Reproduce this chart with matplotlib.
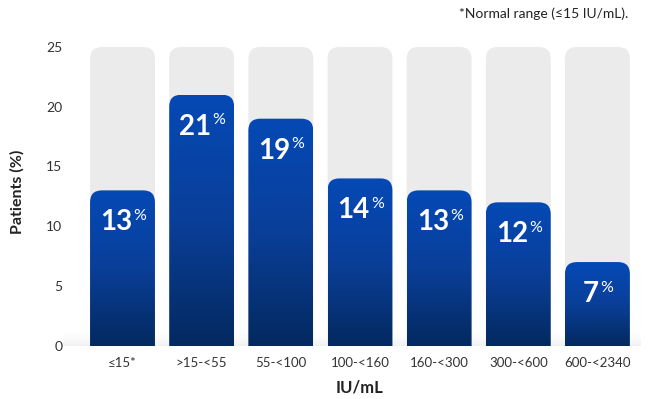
import numpy as np
import matplotlib.pyplot as plt
from matplotlib.patches import FancyBboxPatch
from matplotlib.colors import LinearSegmentedColormap

plt.rcParams['font.family'] = ['Lato', 'DejaVu Sans']

# data
categories = ['≤15*', '>15-<55', '55-<100', '100-<160', '160-<300', '300-<600', '600-<2340']
patients = [13, 21, 19, 14, 13, 12, 7]
y_max = 25
yticks = [0, 5, 10, 15, 20, 25]

fig = plt.figure(figsize=(6.5, 3.99), dpi=100)
ax = fig.add_axes([0.1215, 0.1336, 0.8646, 0.7636])

bar_w = 0.82
radius = 0.15
aspect = 6.625  # keeps the corners round (x units vs y units)
blues = LinearSegmentedColormap.from_list('bar', ['#03295f', '#0a3f99', '#0549b5'])
grad = np.linspace(0, 1, 256).reshape(-1, 1)

# faint shadow along the baseline
shadow = np.zeros((60, 1, 4))
shadow[..., :3] = 0.82
shadow[:, 0, 3] = np.linspace(0.45, 0, 60) ** 1.5
ax.imshow(shadow, extent=[-0.75, 6.55, 0, 1.2], origin='lower', aspect='auto',
          zorder=0.5, clip_on=False, interpolation='bilinear')

for i, v in enumerate(patients):
    x0 = i - bar_w / 2
    bg = FancyBboxPatch((x0, -2), bar_w, y_max + 2,
                        boxstyle=f'round,pad=0,rounding_size={radius}',
                        mutation_aspect=aspect, fc='#ebebeb', ec='none', zorder=1)
    ax.add_patch(bg)
    fg = FancyBboxPatch((x0, -2), bar_w, v + 2,
                        boxstyle=f'round,pad=0,rounding_size={radius}',
                        mutation_aspect=aspect, fc='none', ec='none', zorder=2)
    ax.add_patch(fg)
    im = ax.imshow(grad, extent=[x0, x0 + bar_w, 0, v], origin='lower', aspect='auto',
                   cmap=blues, zorder=2, interpolation='bilinear')
    im.set_clip_path(fg)

    num = ax.annotate(str(v), xy=(i, v), xytext=(-4.5, -28.8), textcoords='offset points',
                      ha='center', va='baseline', color='white', fontsize=20,
                      fontweight='bold', zorder=3)
    ax.annotate('%', xy=(1, v), xycoords=(num, 'data'), xytext=(0.8, -21.3),
                textcoords='offset points', ha='left', va='baseline', color='white',
                fontsize=11.5, zorder=3)

ax.set_xlim(-0.55, 6.55)
ax.set_ylim(0, 25.5)
ax.set_yticks(yticks)
ax.set_xticks(range(len(categories)))
ax.set_xticklabels(categories)
ax.tick_params(axis='y', length=0, pad=12, labelsize=10, labelcolor='#333333')
ax.tick_params(axis='x', length=0, pad=8, labelsize=9.5, labelcolor='#333333')
for s in ax.spines.values():
    s.set_visible(False)

ax.set_xlabel('IU/mL', fontsize=12, fontweight='bold', color='#222222', labelpad=8)
fig.text(17.5 / 650, 1 - 192 / 399, 'Patients (%)', rotation=90, ha='center', va='center',
         fontsize=11.5, fontweight='bold', color='#222222')
fig.text(628 / 650, 1 - 14 / 399, '*Normal range (≤15 IU/mL).', ha='right', va='center',
         fontsize=10, color='#222222')

fig.savefig('out.png', dpi=100)
